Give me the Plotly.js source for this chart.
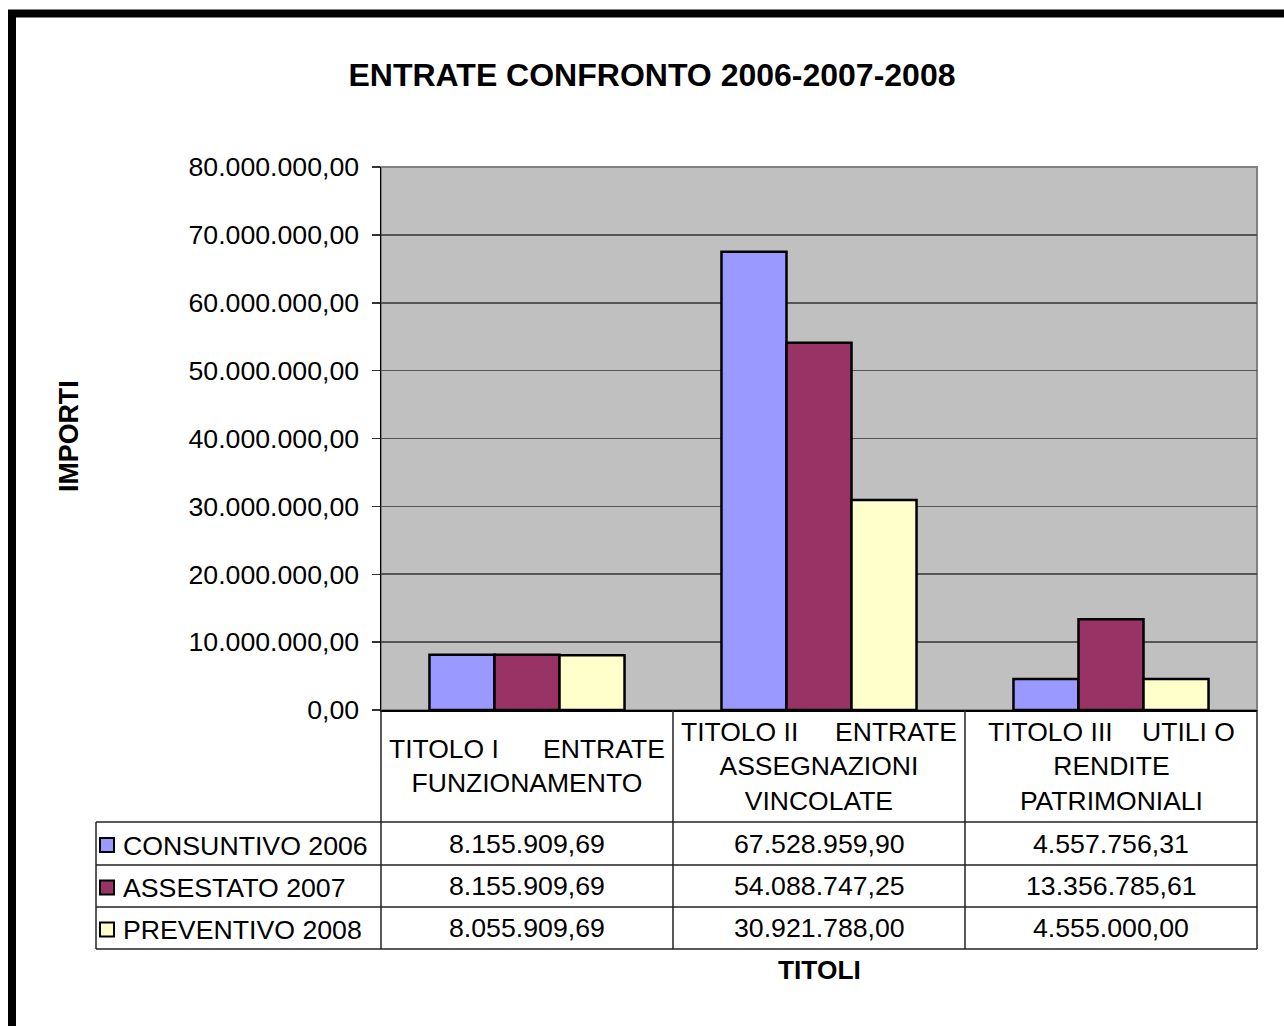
<!DOCTYPE html>
<html>
<head>
<meta charset="utf-8">
<script src="https://cdn.plot.ly/plotly-3.0.1.min.js"></script>
<style>html,body{margin:0;padding:0;background:#fff;}</style>
</head>
<body>
<div id="chart" style="width:1284px;height:1026px;"></div>
<script>
// ---- data ----
const categories = [
  "TITOLO I ENTRATE FUNZIONAMENTO",
  "TITOLO II ENTRATE ASSEGNAZIONI VINCOLATE",
  "TITOLO III UTILI O RENDITE PATRIMONIALI"
];
const categoryLabels = [
  "TITOLO I\u00a0\u00a0\u00a0\u00a0\u00a0\u00a0ENTRATE<br>FUNZIONAMENTO",
  "TITOLO II\u00a0\u00a0\u00a0\u00a0\u00a0ENTRATE<br>ASSEGNAZIONI<br>VINCOLATE",
  "TITOLO III\u00a0\u00a0\u00a0\u00a0UTILI O<br>RENDITE<br>PATRIMONIALI"
];
const seriesNames = ["CONSUNTIVO 2006", "ASSESTATO 2007", "PREVENTIVO 2008"];
const consuntivo2006 = [8155909.69, 67528959.90, 4557756.31];
const assestato2007 = [8155909.69, 54088747.25, 13356785.61];
const preventivo2008 = [8055909.69, 30921788.00, 4555000.00];
const yTicks = [0, 10000000, 20000000, 30000000, 40000000, 50000000, 60000000, 70000000, 80000000];
const chartTitle = "ENTRATE CONFRONTO 2006-2007-2008";
const yTitle = "IMPORTI";
const xTitle = "TITOLI";

// ---- styles ----
const colors = ["#9999FF", "#993366", "#FFFFCC"];
const FONT = "Liberation Sans, Arial, sans-serif";
const TXT = 26.7;
const W = 1284, H = 1026;
const L = 381, R = 27, T = 167, B = 316;
const PW = W - L - R, PH = H - T - B;
const px = (p) => (p - L) / PW;          // pixel x -> paper x
const py = (p) => (H - B - p) / PH;      // pixel y -> paper y

function fmt(v) {
  const parts = v.toFixed(2).split('.');
  return parts[0].replace(/\B(?=(\d{3})+(?!\d))/g, '.') + ',' + parts[1];
}

const series = [consuntivo2006, assestato2007, preventivo2008];
const traces = series.map((vals, i) => ({
  type: 'bar',
  name: seriesNames[i],
  x: categories,
  y: vals,
  marker: {color: colors[i], line: {color: '#000', width: 2.5}},
  hoverinfo: 'x+y+name'
}));

// table geometry (pixels)
const rowEdges = [822, 865, 907, 949];
const tableLeft = 96;
const shapes = [];
const lineStyle = {color: '#222', width: 1.5};

// outer frame of figure
shapes.push({type: 'rect', xref: 'paper', yref: 'paper',
  x0: px(12), x1: px(1300), y0: py(13.5), y1: py(1045),
  line: {color: '#000', width: 8}, fillcolor: 'rgba(0,0,0,0)'});

// plot area border
shapes.push({type: 'rect', xref: 'paper', yref: 'paper', x0: 0, x1: 1, y0: 0, y1: 1,
  line: {color: '#808080', width: 2}, layer: 'below'});

// horizontal table lines
rowEdges.forEach(r => shapes.push({type: 'line', xref: 'paper', yref: 'paper',
  x0: px(tableLeft), x1: 1, y0: py(r), y1: py(r), line: lineStyle}));
// left edge of legend column
shapes.push({type: 'line', xref: 'paper', yref: 'paper',
  x0: px(tableLeft), x1: px(tableLeft), y0: py(rowEdges[0]), y1: py(rowEdges[3]), line: lineStyle});
// category column separators
for (let k = 0; k <= categories.length; k++) {
  const xp = k / categories.length;
  shapes.push({type: 'line', xref: 'paper', yref: 'paper',
    x0: xp, x1: xp, y0: 0, y1: py(rowEdges[3]), line: lineStyle});
}

const annotations = [];
// category header labels
categories.forEach((c, i) => annotations.push({
  xref: 'x', yref: 'paper', x: c, y: py((710 + rowEdges[0]) / 2),
  text: categoryLabels[i], showarrow: false, xanchor: 'center', yanchor: 'middle',
  align: 'center', font: {family: FONT, size: 26.5, color: '#000'}
}));
// rows: legend key + name + values
series.forEach((vals, s) => {
  const cy = (rowEdges[s] + rowEdges[s + 1]) / 2;
  shapes.push({type: 'rect', xref: 'paper', yref: 'paper',
    x0: px(100), x1: px(114), y0: py(cy + 8.5), y1: py(cy - 5.5),
    fillcolor: colors[s], line: {color: '#000', width: 2}});
  annotations.push({xref: 'paper', yref: 'paper', x: px(121), y: py(cy + 2),
    text: seriesNames[s], showarrow: false, xanchor: 'left', yanchor: 'middle',
    font: {family: FONT, size: TXT, color: '#000'}});
  vals.forEach((v, i) => annotations.push({xref: 'x', yref: 'paper', x: categories[i], y: py(cy),
    text: fmt(v), showarrow: false, xanchor: 'center', yanchor: 'middle',
    font: {family: FONT, size: TXT, color: '#000'}}));
});
// axis titles
annotations.push({xref: 'paper', yref: 'paper', x: px(69), y: py(436), text: '<b>' + yTitle + '</b>',
  textangle: -90, showarrow: false, xanchor: 'center', yanchor: 'middle',
  font: {family: FONT, size: 26.8, color: '#000'}});
annotations.push({xref: 'paper', yref: 'paper', x: px(819), y: py(970), text: '<b>' + xTitle + '</b>',
  showarrow: false, xanchor: 'center', yanchor: 'middle',
  font: {family: FONT, size: 26.3, color: '#000'}});

const layout = {
  width: W, height: H,
  margin: {l: L, r: R, t: T, b: B, pad: 0},
  paper_bgcolor: '#fff',
  plot_bgcolor: '#C0C0C0',
  separators: ',.',
  showlegend: false,
  barmode: 'group',
  bargap: 0.332,
  bargroupgap: 0,
  title: {text: '<b>' + chartTitle + '</b>', xref: 'container', yref: 'container',
    x: 652 / W, y: 1 - 75 / H, xanchor: 'center', yanchor: 'middle',
    font: {family: FONT, size: 32, color: '#000'}},
  xaxis: {type: 'category', range: [-0.5, 2.5], showticklabels: false, ticks: '',
    showgrid: false, zeroline: false, showline: true, linecolor: '#000', linewidth: 1.5,
    fixedrange: true},
  yaxis: {range: [0, 80000000], tickvals: yTicks, tickformat: ',.2f',
    ticks: 'outside', ticklen: 8, tickwidth: 1.5, tickcolor: '#333',
    ticklabelstandoff: 7,
    tickfont: {family: FONT, size: TXT, color: '#000'},
    showgrid: true, gridcolor: '#555', gridwidth: 1.7,
    zeroline: false, showline: true, linecolor: '#000', linewidth: 1.5,
    fixedrange: true},
  shapes: shapes,
  annotations: annotations
};

Plotly.newPlot('chart', traces, layout, {staticPlot: true, displayModeBar: false});
</script>
</body>
</html>
